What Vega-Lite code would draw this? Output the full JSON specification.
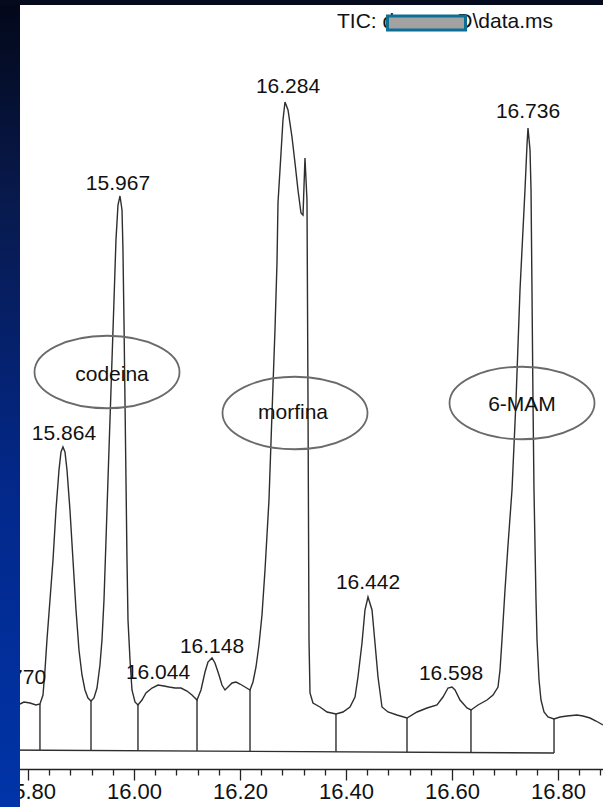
{
  "$schema": "https://vega.github.io/schema/vega-lite/v6.json",
  "autosize": {"type": "none"},
  "width": 603,
  "height": 802,
  "padding": {"top": 5, "left": 0, "right": 0, "bottom": 0},
  "background": "#050a1c",
  "config": {"view": {"fill": "#ffffff", "stroke": null}},
  "datasets": {
    "trace": [
      {"t":15.7472,"a":104},{"t":15.7849,"a":103},{"t":15.7925,"a":105},{"t":15.8038,"a":104},{"t":15.8151,"a":102},
      {"t":15.8226,"a":103},{"t":15.8283,"a":112},{"t":15.8321,"a":137},{"t":15.8358,"a":167},{"t":15.8415,"a":207},
      {"t":15.8472,"a":247},{"t":15.8528,"a":297},{"t":15.8585,"a":337},{"t":15.8623,"a":355},{"t":15.8660,"a":360},
      {"t":15.8698,"a":355},{"t":15.8736,"a":337},{"t":15.8792,"a":297},{"t":15.8849,"a":247},{"t":15.8906,"a":197},
      {"t":15.8962,"a":157},{"t":15.9019,"a":132},{"t":15.9075,"a":117},{"t":15.9132,"a":109},{"t":15.9189,"a":106},
      {"t":15.9245,"a":109},{"t":15.9302,"a":119},{"t":15.9358,"a":142},{"t":15.9396,"a":167},{"t":15.9434,"a":207},
      {"t":15.9472,"a":267},{"t":15.9509,"a":327},{"t":15.9547,"a":387},{"t":15.9585,"a":447},{"t":15.9623,"a":507},
      {"t":15.9660,"a":567},{"t":15.9698,"a":602},{"t":15.9736,"a":611},{"t":15.9774,"a":597},{"t":15.9792,"a":557},
      {"t":15.9811,"a":487},{"t":15.9830,"a":407},{"t":15.9849,"a":327},{"t":15.9868,"a":247},{"t":15.9887,"a":187},
      {"t":15.9925,"a":147},{"t":15.9962,"a":117},{"t":16.0019,"a":105},{"t":16.0075,"a":102},{"t":16.0151,"a":107},
      {"t":16.0226,"a":114},{"t":16.0340,"a":119},{"t":16.0453,"a":122},{"t":16.0566,"a":121},{"t":16.0660,"a":120},
      {"t":16.0774,"a":119},{"t":16.0887,"a":119},{"t":16.1000,"a":116},{"t":16.1094,"a":112},{"t":16.1189,"a":107},
      {"t":16.1264,"a":117},{"t":16.1340,"a":135},{"t":16.1396,"a":145},{"t":16.1472,"a":149},{"t":16.1528,"a":144},
      {"t":16.1604,"a":132},{"t":16.1660,"a":122},{"t":16.1717,"a":117},{"t":16.1774,"a":120},{"t":16.1849,"a":124},
      {"t":16.1925,"a":125},{"t":16.2000,"a":123},{"t":16.2094,"a":120},{"t":16.2189,"a":117},{"t":16.2245,"a":125},
      {"t":16.2302,"a":140},{"t":16.2358,"a":162},{"t":16.2415,"a":192},{"t":16.2472,"a":237},{"t":16.2547,"a":307},
      {"t":16.2604,"a":394},{"t":16.2660,"a":477},{"t":16.2698,"a":544},{"t":16.2717,"a":604},{"t":16.2774,"a":654},
      {"t":16.2811,"a":687},{"t":16.2849,"a":705},{"t":16.2906,"a":697},{"t":16.2981,"a":670},{"t":16.3038,"a":644},
      {"t":16.3094,"a":617},{"t":16.3151,"a":594},{"t":16.3189,"a":592},{"t":16.3226,"a":649},{"t":16.3264,"a":607},
      {"t":16.3283,"a":407},{"t":16.3302,"a":167},{"t":16.3321,"a":114},{"t":16.3377,"a":104},{"t":16.3509,"a":100},
      {"t":16.3642,"a":95},{"t":16.3811,"a":93},{"t":16.3943,"a":95},{"t":16.4075,"a":100},{"t":16.4170,"a":110},
      {"t":16.4226,"a":130},{"t":16.4302,"a":164},{"t":16.4358,"a":197},{"t":16.4415,"a":210},{"t":16.4491,"a":197},
      {"t":16.4547,"a":164},{"t":16.4604,"a":130},{"t":16.4679,"a":100},{"t":16.4792,"a":95},{"t":16.4962,"a":92},
      {"t":16.5151,"a":89},{"t":16.5340,"a":95},{"t":16.5528,"a":99},{"t":16.5717,"a":102},{"t":16.5830,"a":110},
      {"t":16.5925,"a":119},{"t":16.6000,"a":120},{"t":16.6057,"a":117},{"t":16.6151,"a":107},{"t":16.6283,"a":99},
      {"t":16.6358,"a":97},{"t":16.6491,"a":102},{"t":16.6660,"a":107},{"t":16.6774,"a":112},{"t":16.6868,"a":120},
      {"t":16.6906,"a":137},{"t":16.6943,"a":167},{"t":16.7000,"a":217},{"t":16.7057,"a":262},{"t":16.7132,"a":317},
      {"t":16.7208,"a":407},{"t":16.7283,"a":517},{"t":16.7377,"a":617},{"t":16.7415,"a":662},{"t":16.7434,"a":679},
      {"t":16.7472,"a":657},{"t":16.7491,"a":617},{"t":16.7509,"a":517},{"t":16.7528,"a":407},{"t":16.7547,"a":317},
      {"t":16.7585,"a":207},{"t":16.7604,"a":167},{"t":16.7642,"a":127},{"t":16.7679,"a":107},{"t":16.7736,"a":95},
      {"t":16.7811,"a":90},{"t":16.7925,"a":88},{"t":16.8038,"a":90},{"t":16.8170,"a":91},{"t":16.8358,"a":92},
      {"t":16.8472,"a":91},{"t":16.8604,"a":89},{"t":16.8717,"a":86},{"t":16.8849,"a":82}
    ],
    "base": [{"t":15.7472,"a":57},{"t":16.7925,"a":54}],
    "drops": [
      {"t":15.8226,"a":57,"a2":103},{"t":15.9189,"a":56.6,"a2":106},{"t":16.0075,"a":56.3,"a2":102},
      {"t":16.1189,"a":56,"a2":107},{"t":16.2189,"a":55.7,"a2":117},{"t":16.3811,"a":55.2,"a2":93},
      {"t":16.5151,"a":54.8,"a2":89},{"t":16.6358,"a":54.5,"a2":97},{"t":16.7925,"a":54,"a2":88}
    ],
    "peaks": [
      {"label":"15.770","t":15.7736,"a":129},
      {"label":"15.864","t":15.8679,"a":373},
      {"label":"15.967","t":15.9698,"a":623},
      {"label":"16.044","t":16.0453,"a":134},
      {"label":"16.148","t":16.1472,"a":160},
      {"label":"16.284","t":16.2906,"a":720},
      {"label":"16.442","t":16.4415,"a":224},
      {"label":"16.598","t":16.5981,"a":133},
      {"label":"16.736","t":16.7434,"a":695}
    ],
    "notes": [
      {"label":"codeina","t":15.9585,"a":432},
      {"label":"morfina","t":16.3000,"a":394},
      {"label":"6-MAM","t":16.7321,"a":402}
    ],
    "rings": [
      {"name":"codeina","t":15.9491,"a":435},
      {"name":"morfina","t":16.3038,"a":394},
      {"name":"6-MAM","t":16.7321,"a":404}
    ],
    "ticLeft": [{"label":"TIC: d","t":16.3830,"a":785}],
    "ticRight": [{"label":"D\\data.ms","t":16.7906,"a":785}],
    "redact": [{"t":16.4783,"t2":16.6255,"a":777,"a2":791}],
    "paperEdge": [{"a":800}],
    "strip": [{"t":15.7472,"t2":15.7849,"a":0,"a2":802}]
  },
  "encoding": {
    "x": {
      "field": "t", "type": "quantitative",
      "scale": {"domain": [15.7472, 16.8849], "nice": false, "zero": false},
      "axis": {
        "title": null, "grid": false, "offset": -38,
        "values": [15.76,15.8,15.84,15.88,15.92,15.96,16,16.04,16.08,16.12,16.16,16.2,16.24,16.28,16.32,16.36,16.4,16.44,16.48,16.52,16.56,16.6,16.64,16.68,16.72,16.76,16.8,16.84,16.88],
        "labelExpr": "abs(datum.value*5 - round(datum.value*5)) < 0.001 ? format(datum.value, '.2f') : ''",
        "labelOverlap": false,
        "labelFont": "Liberation Sans", "labelFontSize": 22, "labelColor": "#111111", "labelPadding": 1,
        "domainColor": "#222222", "domainWidth": 1.3,
        "tickColor": "#222222", "tickWidth": 1.3,
        "tickSize": {"condition": {"test": "abs(datum.value*5 - round(datum.value*5)) < 0.001", "value": 11}, "value": 6}
      }
    },
    "y": {
      "field": "a", "type": "quantitative",
      "scale": {"domain": [0, 802], "nice": false, "zero": false},
      "axis": null
    }
  },
  "layer": [
    {"data": {"name": "paperEdge"}, "mark": {"type": "rule", "stroke": "#8a8a8a", "strokeWidth": 2},
     "encoding": {"x": {"datum": 15.7472}, "x2": {"datum": 16.8849}}},
    {"data": {"name": "base"}, "mark": {"type": "line", "stroke": "#2e2e2e", "strokeWidth": 1.4}},
    {"data": {"name": "drops"}, "mark": {"type": "rule", "stroke": "#2e2e2e", "strokeWidth": 1.4},
     "encoding": {"y2": {"field": "a2"}}},
    {"data": {"name": "trace"}, "mark": {"type": "line", "stroke": "#2e2e2e", "strokeWidth": 1.4}},
    {"data": {"name": "rings"},
     "mark": {"type": "point", "shape": "M -1 0 A 1 0.5 0 1 1 1 0 A 1 0.5 0 1 1 -1 0 Z", "size": 21025, "filled": false, "stroke": "#6a6a6a", "strokeWidth": 1.8, "opacity": 1}},
    {"data": {"name": "peaks"},
     "mark": {"type": "text", "font": "Liberation Sans", "fontSize": 21, "fill": "#111111", "align": "center", "baseline": "middle"},
     "encoding": {"text": {"field": "label"}}},
    {"data": {"name": "notes"},
     "mark": {"type": "text", "font": "Liberation Sans", "fontSize": 21, "fill": "#111111", "align": "center", "baseline": "middle"},
     "encoding": {"text": {"field": "label"}}},
    {"data": {"name": "ticLeft"},
     "mark": {"type": "text", "font": "Liberation Sans", "fontSize": 21, "fill": "#111111", "align": "left", "baseline": "middle"},
     "encoding": {"text": {"field": "label"}}},
    {"data": {"name": "ticRight"},
     "mark": {"type": "text", "font": "Liberation Sans", "fontSize": 21, "fill": "#111111", "align": "right", "baseline": "middle"},
     "encoding": {"text": {"field": "label"}}},
    {"data": {"name": "redact"},
     "mark": {"type": "rect", "fill": "#a2a2a2", "stroke": "#0e6f95", "strokeWidth": 3},
     "encoding": {"x2": {"field": "t2"}, "y2": {"field": "a2"}}},
    {"data": {"name": "strip"},
     "mark": {"type": "rect", "fill": "#062283"},
     "encoding": {"x2": {"field": "t2"}, "y2": {"field": "a2"}}},
    {"data": {"name": "strip"},
     "mark": {"type": "rect", "color": {"gradient": "linear", "x1": 0, "y1": 0, "x2": 0, "y2": 1,
       "stops": [{"offset": 0, "color": "#03081a"}, {"offset": 0.25, "color": "#081a4e"}, {"offset": 0.6, "color": "#03288a"}, {"offset": 1, "color": "#0034a8"}]}},
     "encoding": {"x2": {"field": "t2"}, "y2": {"field": "a2"}}}
  ]
}
